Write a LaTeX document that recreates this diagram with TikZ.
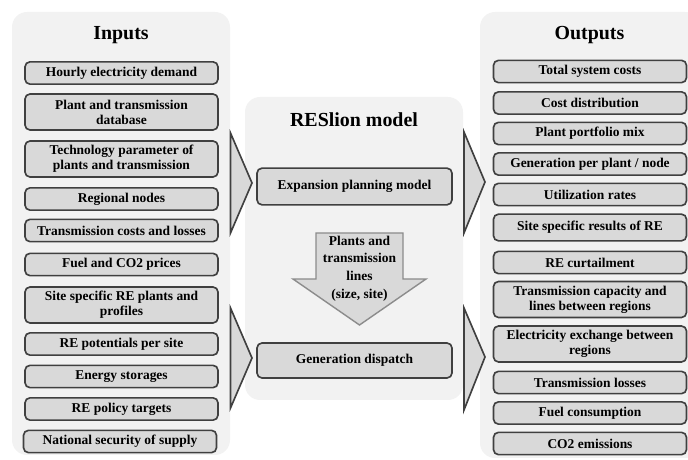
\documentclass[tikz,border=0pt]{standalone}
\usepackage{fontspec}
\setmainfont{Liberation Serif}
\usepackage{tikz}

\definecolor{panelgray}{HTML}{F2F2F2}
\definecolor{boxgray}{HTML}{D9D9D9}
\definecolor{edgegray}{HTML}{404040}
\definecolor{arrowedge}{HTML}{8C8C8C}

\tikzset{
  panel/.style={fill=panelgray, rounded corners=0.45cm},
  itembox/.style={draw=edgegray, fill=boxgray, line width=1.4pt, rounded corners=0.15cm,
    minimum width=5.79cm, inner sep=0pt, align=center, font=\fontsize{11.5}{12.8}\selectfont\bfseries},
  onerow/.style={itembox, minimum height=0.67cm},
  tworow/.style={itembox, minimum height=1.08cm},
  paneltitle/.style={font=\fontsize{17}{20}\selectfont\bfseries},
  sidearrow/.style={draw=edgegray, fill=boxgray, line width=1.4pt, line join=miter},
  downarrow/.style={draw=arrowedge, fill=boxgray, line width=1.2pt},
}

\begin{document}
\begin{tikzpicture}[x=0.03cm, y=-0.03cm]
  \useasboundingbox (0,0) rectangle (688,460);
  % panels
  \fill[panel] (12,12) rectangle (230,455);
  \fill[panel] (245,97) rectangle (463,400);
  \fill[panel] (480,12) rectangle (700,458);

  % inputs
  \node[paneltitle] (intitle) at (121,35) {Inputs};
  \node[onerow] (in1) at (121.5,73) {Hourly electricity demand};
  \node[tworow] (in2) at (121.5,112) {Plant and transmission\\database};
  \node[tworow] (in3) at (121.5,159) {Technology parameter of\\plants and transmission};
  \node[onerow] (in4) at (121.5,199) {Regional nodes};
  \node[onerow] (in5) at (121.5,230.5) {Transmission costs and losses};
  \node[onerow] (in6) at (121.5,264.5) {Fuel and CO2 prices};
  \node[tworow] (in7) at (121.5,305) {Site specific RE plants and\\profiles};
  \node[onerow] (in8) at (121.5,344) {RE potentials per site};
  \node[onerow] (in9) at (121.5,376.5) {Energy storages};
  \node[onerow] (in10) at (121.5,409) {RE policy targets};
  \node[onerow] (in11) at (120,441.5) {National security of supply};

  % model
  \node[paneltitle] (modeltitle) at (354,120) {RESlion model};
  \node[itembox, minimum width=5.85cm, minimum height=1.1cm] (expansion) at (354.5,186.5) {Expansion planning model};
  \node[itembox, minimum width=5.85cm, minimum height=1.05cm] (dispatch) at (354.5,360.5) {Generation dispatch};
  \draw[downarrow] (316,233) -- (403,233) -- (403,279) -- (426,279) -- (359.5,325)
    -- (293,279) -- (316,279) -- cycle;
  \node[align=center, font=\fontsize{11.5}{15}\selectfont\bfseries] (handover) at (359.5,268.5)
    {Plants and\\transmission\\lines\\(size, site)};

  % outputs
  \node[paneltitle] (outtitle) at (589.5,35) {Outputs};
  \node[onerow] (out1) at (590,71.5) {Total system costs};
  \node[onerow] (out2) at (590,103) {Cost distribution};
  \node[onerow] (out3) at (590,133.5) {Plant portfolio mix};
  \node[onerow] (out4) at (590,164) {Generation per plant / node};
  \node[onerow] (out5) at (590,194.5) {Utilization rates};
  \node[itembox, minimum height=0.8cm] (out6) at (590,227.5) {Site specific results of RE};
  \node[onerow] (out7) at (590,262.5) {RE curtailment};
  \node[tworow] (out8) at (590,299.5) {Transmission capacity and\\lines between regions};
  \node[tworow] (out9) at (590,344) {Electricity exchange between\\regions};
  \node[onerow] (out10) at (590,382.5) {Transmission losses};
  \node[onerow] (out11) at (590,413) {Fuel consumption};
  \node[onerow] (out12) at (590,443.5) {CO2 emissions};

  % flow arrows
  \draw[sidearrow] (230.5,133) -- (252,183) -- (230.5,233) -- cycle;
  \draw[sidearrow] (230.5,308) -- (252,358) -- (230.5,408) -- cycle;
  \draw[sidearrow] (464,132) -- (485,182) -- (464,233) -- cycle;
  \draw[sidearrow] (464,308) -- (485,357) -- (464,410) -- cycle;
\end{tikzpicture}
\end{document}
